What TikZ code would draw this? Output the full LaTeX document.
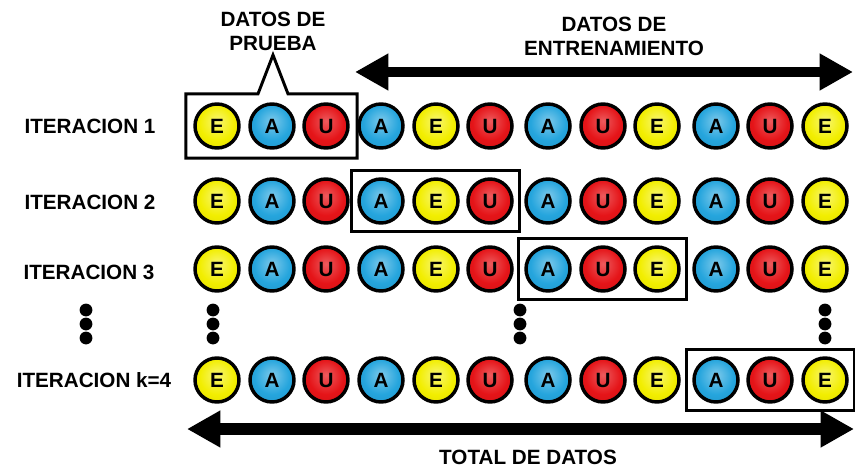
\documentclass[tikz,border=0pt]{standalone}
\usepackage{fontspec}
\setmainfont{Liberation Sans}
\usepackage{xcolor}
\usepackage{tikz}
\usetikzlibrary{arrows.meta, positioning, fit}

\definecolor{colE}{HTML}{F2EE00}
\definecolor{colA}{HTML}{25A5DD}
\definecolor{colU}{HTML}{E51418}
\pgfdeclareradialshading{glossE}{\pgfpoint{0bp}{6bp}}{color(0bp)=(colE!55!white); color(20bp)=(colE); color(36bp)=(colE!92!black); color(50bp)=(colE!45!black)}
\pgfdeclareradialshading{glossA}{\pgfpoint{0bp}{6bp}}{color(0bp)=(colA!60!white); color(20bp)=(colA); color(36bp)=(colA!90!black); color(50bp)=(colA!40!black)}
\pgfdeclareradialshading{glossU}{\pgfpoint{0bp}{6bp}}{color(0bp)=(colU!70!white); color(20bp)=(colU); color(36bp)=(colU!90!black); color(50bp)=(colU!40!black)}

\newcommand{\diagfont}{\bfseries\fontsize{15.5}{18}\selectfont}
\tikzstyle{ball}     = [circle, draw=black, line width=2.6pt, minimum size=33pt,
                         inner sep=0pt, font=\diagfont]
\tikzstyle{ballE}    = [ball, shading=glossE]
\tikzstyle{ballA}    = [ball, shading=glossA]
\tikzstyle{ballU}    = [ball, shading=glossU]
\tikzstyle{selbox}   = [draw=black, line width=2.2pt, inner xsep=4.5pt, inner ysep=5.2pt]
\tikzstyle{selline}  = [draw=black, line width=2.2pt]
\tikzstyle{headtxt}  = [align=center, font=\diagfont]
\tikzstyle{bigarrow} = [{Triangle[length=25pt,width=26pt]}-{Triangle[length=25pt,width=26pt]},
                         line width=7.5pt]

\begin{document}
\begin{tikzpicture}[x=0.75pt, y=-0.75pt, font=\diagfont]
  \useasboundingbox (0,0) rectangle (855,470);

  % headings
  \node[headtxt] (prueba) at (273,31) {DATOS DE\\PRUEBA};
  \node[headtxt] (entren) at (614,36) {DATOS DE\\ENTRENAMIENTO};

  % iterations
  \node (it1) at (90,126) {ITERACION 1};
  \node (it2) at (90,202) {ITERACION 2};
  \node (it3) at (89,272) {ITERACION 3};
  \node (it4) at (94,380) {ITERACION k=4};

  \foreach \row/\ypos in {1/126,2/201,3/269,4/380}
    \foreach \v/\xpos [count=\i] in {E/217,A/272,U/326,A/381,E/436,U/490,
                                     A/548,U/603,E/657,A/716,U/770,E/825}
      \node[ball\v] (c\row-\i) at (\xpos,\ypos) {\v};

  % test blocks
  \node[selbox, draw=none, fit=(c1-1)(c1-3)] (sel1) {};
  \node[selbox, fit=(c2-4)(c2-6)] (sel2) {};
  \node[selbox, fit=(c3-7)(c3-9)] (sel3) {};
  \node[selbox, fit=(c4-10)(c4-12)] (sel4) {};

  \coordinate (tipPrueba) at (273,55);
  \coordinate (notchL) at (258,0);
  \coordinate (notchR) at (288,0);
  \draw[selline] (sel1.north west) -- (notchL |- sel1.north) -- (tipPrueba)
    -- (notchR |- sel1.north) -- (sel1.north east) -- (sel1.south east)
    -- (sel1.south west) -- cycle;

  % vertical dots
  \foreach \x in {86,213,520,825}
    \foreach \y in {310,324,338}
      \fill (\x,\y) circle (4.8pt);

  % arrows
  \coordinate (trainL) at (355,72);
  \coordinate (trainR) at (853,72);
  \draw[bigarrow] (trainL) -- (trainR);

  \coordinate (totalL) at (187,429);
  \coordinate (totalR) at (854,429);
  \draw[bigarrow, line width=9pt] (totalL) -- (totalR);
  \node (total) at (528,457) {TOTAL DE DATOS};

\end{tikzpicture}
\end{document}
